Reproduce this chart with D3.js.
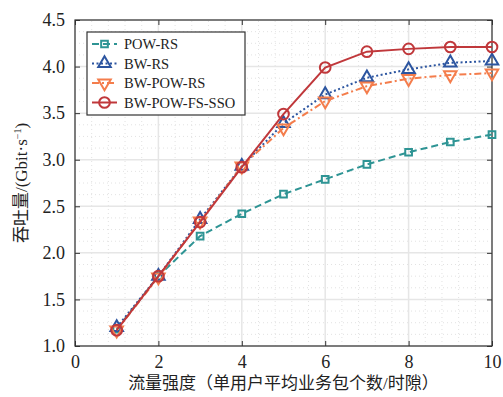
<!DOCTYPE html>
<html>
<head>
    <meta charset="UTF-8">
    <script src="https://cdn.jsdelivr.net/npm/d3@7"></script>
    <style>
        body { margin: 0; background: #fff; }
        text { font-family: "Liberation Serif", "Noto Sans CJK SC", serif; fill: #222; }
        .cjk { font-family: "Liberation Serif", "Noto Sans CJK SC", serif; }
    </style>
</head>
<body>
<svg id="chart"></svg>
<script>
    var xs = [1, 2, 3, 4, 5, 6, 7, 8, 9, 10];
    var powRs = [1.18, 1.75, 2.18, 2.42, 2.63, 2.79, 2.95, 3.08, 3.19, 3.27];
    var bwRs = [1.20, 1.75, 2.36, 2.93, 3.39, 3.70, 3.88, 3.97, 4.04, 4.06];
    var bwPowRs = [1.17, 1.74, 2.34, 2.93, 3.34, 3.63, 3.79, 3.87, 3.91, 3.93];
    var bwPowFsSso = [1.17, 1.75, 2.33, 2.92, 3.49, 3.99, 4.16, 4.19, 4.21, 4.21];
    var xTicks = [0, 2, 4, 6, 8, 10];
    var yTicks = [1.0, 1.5, 2.0, 2.5, 3.0, 3.5, 4.0, 4.5];

    var series = [
        {name: "POW-RS", values: powRs, color: "#2e9494", dash: "7,4", marker: "square"},
        {name: "BW-RS", values: bwRs, color: "#2c55a0", dash: "2,2.5", marker: "up"},
        {name: "BW-POW-RS", values: bwPowRs, color: "#f47d4c", dash: "7,3,2,3", marker: "down"},
        {name: "BW-POW-FS-SSO", values: bwPowFsSso, color: "#c0383b", dash: null, marker: "circle"}
    ];

    var W = 503, H = 397;
    var m = {left: 75, right: 11, top: 20, bottom: 51};
    var svg = d3.select("#chart").attr("width", W).attr("height", H);

    var x = d3.scaleLinear().domain([0, 10]).range([m.left, W - m.right]);
    var y = d3.scaleLinear().domain([1, 4.5]).range([H - m.bottom, m.top]);

    // minor grid
    var g = svg.append("g");
    g.selectAll(".mx").data(d3.range(0.4, 10, 0.4).filter(function (v) { return Math.abs(v / 2 - Math.round(v / 2)) > 0.01; }))
        .enter().append("line")
        .attr("x1", function (d) { return x(d); }).attr("x2", function (d) { return x(d); })
        .attr("y1", y(1)).attr("y2", y(4.5))
        .attr("stroke", "#e2e2e2").attr("stroke-dasharray", "1,3");
    g.selectAll(".my").data(d3.range(1.125, 4.5, 0.125).filter(function (v) { return Math.abs(v * 2 - Math.round(v * 2)) > 0.01; }))
        .enter().append("line")
        .attr("y1", function (d) { return y(d); }).attr("y2", function (d) { return y(d); })
        .attr("x1", x(0)).attr("x2", x(10))
        .attr("stroke", "#e2e2e2").attr("stroke-dasharray", "1,3");
    // major grid
    g.selectAll(".gx").data(xTicks).enter().append("line")
        .attr("x1", function (d) { return x(d); }).attr("x2", function (d) { return x(d); })
        .attr("y1", y(1)).attr("y2", y(4.5))
        .attr("stroke", "#e6e6e6").attr("stroke-width", 1.5);
    g.selectAll(".gy").data(yTicks).enter().append("line")
        .attr("y1", function (d) { return y(d); }).attr("y2", function (d) { return y(d); })
        .attr("x1", x(0)).attr("x2", x(10))
        .attr("stroke", "#e6e6e6").attr("stroke-width", 1.5);

    // axes, ticks inward on all sides
    function styleAxis(sel) {
        sel.select(".domain").remove();
        sel.selectAll(".tick line").attr("stroke", "#333").attr("stroke-width", 1);
        sel.selectAll("text").attr("font-size", 18).attr("fill", "#222");
    }
    svg.append("g").attr("transform", "translate(0," + y(1) + ")")
        .call(d3.axisBottom(x).tickValues(xTicks).tickSizeInner(-5).tickPadding(9).tickFormat(d3.format("d")))
        .call(styleAxis);
    svg.append("g").attr("transform", "translate(0," + y(4.5) + ")")
        .call(d3.axisTop(x).tickValues(xTicks).tickSizeInner(-5).tickFormat(""))
        .call(styleAxis);
    svg.append("g").attr("transform", "translate(" + x(0) + ",0)")
        .call(d3.axisLeft(y).tickValues(yTicks).tickSizeInner(-5).tickPadding(10).tickFormat(d3.format(".1f")))
        .call(styleAxis);
    svg.append("g").attr("transform", "translate(" + x(10) + ",0)")
        .call(d3.axisRight(y).tickValues(yTicks).tickSizeInner(-5).tickFormat(""))
        .call(styleAxis);

    svg.append("rect").attr("x", x(0)).attr("y", y(4.5))
        .attr("width", x(10) - x(0)).attr("height", y(1) - y(4.5))
        .attr("fill", "none").attr("stroke", "#333").attr("stroke-width", 1.2);

    function marker(sel, type, color) {
        var sym;
        if (type === "square") sym = d3.symbol(d3.symbolSquare, 45);
        else if (type === "circle") sym = d3.symbol(d3.symbolCircle, 90);
        else sym = d3.symbol(d3.symbolTriangle, 68);
        sel.append("path").attr("d", sym)
            .attr("transform", type === "down" ? "rotate(180)" : null)
            .attr("fill", "none").attr("stroke", color).attr("stroke-width", 2);
    }

    var line = d3.line().x(function (d, i) { return x(xs[i]); }).y(function (d) { return y(d); });

    series.forEach(function (s) {
        svg.append("path").datum(s.values).attr("d", line)
            .attr("fill", "none").attr("stroke", s.color).attr("stroke-width", 2)
            .attr("stroke-dasharray", s.dash);
        svg.selectAll(null).data(s.values).enter().append("g")
            .attr("transform", function (d, i) { return "translate(" + x(xs[i]) + "," + y(d) + ")"; })
            .each(function () { marker(d3.select(this), s.marker, s.color); });
    });

    // legend
    var lg = svg.append("g").attr("transform", "translate(87,32)");
    lg.append("rect").attr("width", 158).attr("height", 83)
        .attr("fill", "#fff").attr("stroke", "#333").attr("stroke-width", 1.2);
    series.forEach(function (s, i) {
        var row = lg.append("g").attr("transform", "translate(0," + (12 + i * 19.5) + ")");
        row.append("line").attr("x1", 5).attr("x2", 30).attr("y1", 0).attr("y2", 0)
            .attr("stroke", s.color).attr("stroke-width", 2).attr("stroke-dasharray", s.dash);
        marker(row.append("g").attr("transform", "translate(17.5,0)"), s.marker, s.color);
        row.append("text").attr("x", 37).attr("y", 5).attr("font-size", 14.5).text(s.name);
    });

    // axis titles
    svg.append("text").attr("class", "cjk")
        .attr("x", (x(0) + x(10)) / 2).attr("y", 389)
        .attr("text-anchor", "middle").attr("font-size", 17)
        .text("流量强度（单用户平均业务包个数/时隙）");
    var yl = svg.append("text").attr("class", "cjk")
        .attr("transform", "translate(27," + ((y(1) + y(4.5)) / 2) + ") rotate(-90)")
        .attr("text-anchor", "middle").attr("font-size", 17);
    yl.append("tspan").text("吞吐量/(Gbit·s");
    yl.append("tspan").attr("dy", -6).attr("font-size", 10).text("−1");
    yl.append("tspan").attr("dy", 6).text(")");
</script>
</body>
</html>
